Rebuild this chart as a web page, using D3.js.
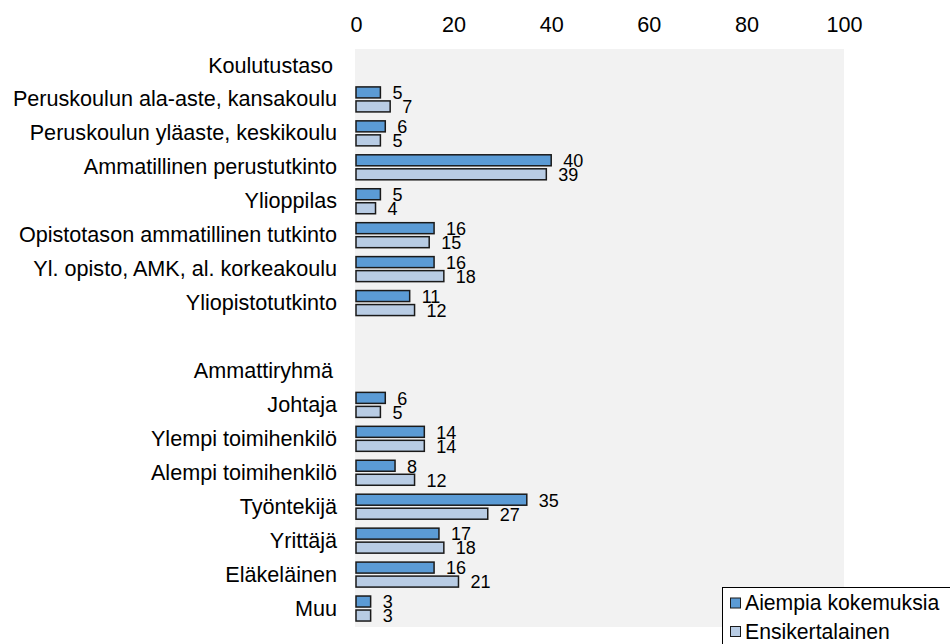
<!DOCTYPE html>
<html lang="fi">
<head>
<meta charset="UTF-8">
<title>Koulutustaso ja ammattiryhmä</title>
<script src="https://d3js.org/d3.v7.min.js"></script>
<style>
    body { margin: 0; background: #fff; }
    svg { display: block; font-family: "Liberation Sans", Arial, sans-serif; }
</style>
</head>
<body>
<div id="chart"></div>
<script>
// rows from top to bottom; "" is the empty spacer row, headings have no bars
var rowLabels = [
    "Koulutustaso",
    "Peruskoulun ala-aste, kansakoulu",
    "Peruskoulun yläaste, keskikoulu",
    "Ammatillinen perustutkinto",
    "Ylioppilas",
    "Opistotason ammatillinen tutkinto",
    "Yl. opisto, AMK, al. korkeakoulu",
    "Yliopistotutkinto",
    "",
    "Ammattiryhmä",
    "Johtaja",
    "Ylempi toimihenkilö",
    "Alempi toimihenkilö",
    "Työntekijä",
    "Yrittäjä",
    "Eläkeläinen",
    "Muu"
];
var headings = ["Koulutustaso", "Ammattiryhmä"];

var seriesNames = ["Aiempia kokemuksia", "Ensikertalainen"];
// null = no bar on that row
var aiempia = [null, 5, 6, 40, 5, 16, 16, 11, null, null, 6, 14, 8, 35, 17, 16, 3];
var ensikertalainen = [null, 7, 5, 39, 4, 15, 18, 12, null, null, 5, 14, 12, 27, 18, 21, 3];
var xTicks = [0, 20, 40, 60, 80, 100];

var colors = ["#5b9bd5", "#b8cce4"];

var width = 950, height = 644;
var svg = d3.select("#chart").append("svg")
    .attr("width", width)
    .attr("height", height);

var x = d3.scaleLinear().domain([0, 100]).range([356, 844]);
var y = d3.scaleBand().domain(d3.range(rowLabels.length)).range([48, 625]);

// plot background
svg.append("rect")
    .attr("x", 355).attr("y", 49)
    .attr("width", 489).attr("height", 578)
    .attr("fill", "#f2f2f2");

// top axis, labels only
var axis = svg.append("g")
    .attr("transform", "translate(0,32)")
    .call(d3.axisTop(x).tickValues(xTicks).tickSize(0).tickPadding(0));
axis.select(".domain").remove();
axis.selectAll("text")
    .attr("font-size", 21.6)
    .attr("font-family", "Liberation Sans, Arial, sans-serif")
    .attr("fill", "#000");

// category labels
svg.selectAll("text.cat")
    .data(rowLabels)
    .enter().append("text")
    .attr("class", "cat")
    .attr("x", function(d) { return headings.indexOf(d) >= 0 ? 333 : 337; })
    .attr("y", function(d, i) { return y(i) + y.bandwidth() / 2; })
    .attr("dy", "0.35em")
    .attr("text-anchor", "end")
    .attr("font-size", 21.6)
    .text(function(d) { return d; });

var series = [aiempia, ensikertalainen];
var offsets = [-12, 2];

series.forEach(function(vals, s) {
    var pts = vals.map(function(v, i) { return { v: v, i: i }; })
        .filter(function(d) { return d.v !== null; });

    svg.selectAll("rect.s" + s)
        .data(pts)
        .enter().append("rect")
        .attr("class", "s" + s)
        .attr("x", x(0))
        .attr("y", function(d) { return y(d.i) + y.bandwidth() / 2 + offsets[s]; })
        .attr("width", function(d) { return x(d.v) - x(0); })
        .attr("height", 11)
        .attr("fill", colors[s])
        .attr("stroke", "#1a1a1a")
        .attr("stroke-width", 1.5);

    svg.selectAll("text.v" + s)
        .data(pts)
        .enter().append("text")
        .attr("class", "v" + s)
        .attr("x", function(d) { return x(d.v) + 12; })
        .attr("y", function(d) { return y(d.i) + y.bandwidth() / 2 + offsets[s] + 6; })
        .attr("dy", "0.35em")
        .attr("font-size", 18)
        .text(function(d) { return d.v; });
});

// legend
var legend = svg.append("g");
legend.append("rect")
    .attr("x", 722.5).attr("y", 587.5)
    .attr("width", 240).attr("height", 70)
    .attr("fill", "#fff")
    .attr("stroke", "#000");

seriesNames.forEach(function(name, s) {
    var cy = 603 + s * 28.5;
    legend.append("rect")
        .attr("x", 730.5).attr("y", cy - 5)
        .attr("width", 10).attr("height", 10)
        .attr("fill", colors[s])
        .attr("stroke", "#1a1a1a");
    legend.append("text")
        .attr("x", 745)
        .attr("y", cy)
        .attr("dy", "0.35em")
        .attr("font-size", 21.2)
        .text(name);
});
</script>
</body>
</html>
